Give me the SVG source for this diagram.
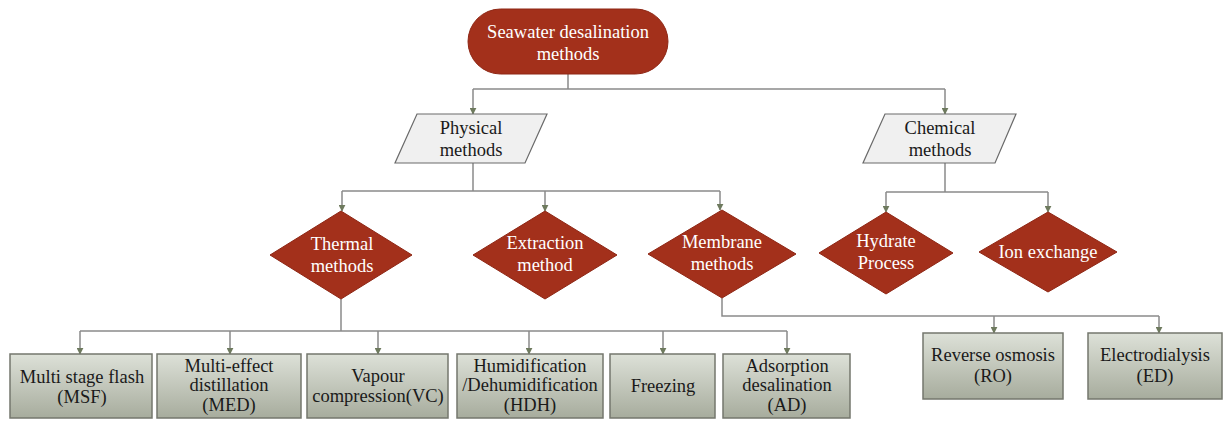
<svg xmlns="http://www.w3.org/2000/svg" width="1223" height="422" viewBox="0 0 1223 422" font-family="'Liberation Serif', 'DejaVu Serif', 'Times New Roman', Times, serif">
  <defs>
    <linearGradient id="boxFill" x1="0" y1="0" x2="0" y2="1">
      <stop offset="0" stop-color="#DDE1D8"/>
      <stop offset="1" stop-color="#A7AC9D"/>
    </linearGradient>
    <marker id="arrow" viewBox="0 0 10 10" refX="9" refY="5" markerWidth="7" markerHeight="7" markerUnits="userSpaceOnUse" orient="auto">
      <path d="M0,0 L10,5 L0,10 Z" fill="#6E7A5E"/>
    </marker>
    <style>
      text { font-family: "Liberation Serif", "DejaVu Serif", "Times New Roman", Times, serif; font-size: 18.5px; text-anchor: middle; }
      .dark { fill: #A3301B; stroke: #8E2614; stroke-width: 1; }
      .dark-text { fill: #FFFFFF; }
      .para { fill: #F0F0F0; stroke: #6A6A6A; stroke-width: 1.2; }
      .box { fill: url(#boxFill); stroke: #74776D; stroke-width: 1.5; }
      .ink { fill: #1A1A1A; }
      .conn { fill: none; stroke: #8A8A8A; stroke-width: 1.5; }
      .arr { fill: none; stroke: #8A8A8A; stroke-width: 1.5; marker-end: url(#arrow); }
    </style>
  </defs>

  <rect width="1223" height="422" fill="#FFFFFF"/>

  <!-- connectors -->
  <g id="connectors">
    <path class="conn" d="M568,74 V89 M473,89 H945"/>
    <path class="arr" d="M473,89 V114"/>
    <path class="arr" d="M945,89 V114"/>

    <path class="conn" d="M473,163 V191 M342,191 H720"/>
    <path class="arr" d="M342,191 V211"/>
    <path class="arr" d="M545,191 V211"/>
    <path class="arr" d="M720,191 V210"/>

    <path class="conn" d="M945,163 V192 M886,192 H1048"/>
    <path class="arr" d="M886,192 V212"/>
    <path class="arr" d="M1048,192 V212"/>

    <path class="conn" d="M341,299 V331 M80,331 H787"/>
    <path class="arr" d="M80,331 V354"/>
    <path class="arr" d="M230,331 V354"/>
    <path class="arr" d="M378,331 V354"/>
    <path class="arr" d="M529,331 V354"/>
    <path class="arr" d="M663,331 V354"/>
    <path class="arr" d="M787,331 V354"/>

    <path class="conn" d="M722,298 V316 H1159"/>
    <path class="arr" d="M994,316 V333"/>
    <path class="arr" d="M1159,316 V333"/>
  </g>

  <!-- root -->
  <g id="node-root">
    <rect class="dark" x="468" y="9" width="200" height="65" rx="32.5"/>
    <text class="dark-text" x="568" y="38">Seawater desalination</text>
    <text class="dark-text" x="568" y="60">methods</text>
  </g>

  <!-- second level -->
  <g id="node-physical">
    <polygon class="para" points="417,114 547,114 525,163 395,163"/>
    <text class="ink" x="471" y="134">Physical</text>
    <text class="ink" x="471" y="156">methods</text>
  </g>
  <g id="node-chemical">
    <polygon class="para" points="885,114 1016,114 995,163 863,163"/>
    <text class="ink" x="940" y="134">Chemical</text>
    <text class="ink" x="940" y="156">methods</text>
  </g>

  <!-- third level -->
  <g id="node-thermal">
    <polygon class="dark" points="341,211 412,255 341,299 270,255"/>
    <text class="dark-text" x="342" y="250">Thermal</text>
    <text class="dark-text" x="342" y="272">methods</text>
  </g>
  <g id="node-extraction">
    <polygon class="dark" points="545,211 617,255 545,299 473,255"/>
    <text class="dark-text" x="545" y="249">Extraction</text>
    <text class="dark-text" x="545" y="271">method</text>
  </g>
  <g id="node-membrane">
    <polygon class="dark" points="722,210 796,254 722,298 648,254"/>
    <text class="dark-text" x="722" y="248">Membrane</text>
    <text class="dark-text" x="722" y="270">methods</text>
  </g>
  <g id="node-hydrate">
    <polygon class="dark" points="886,212 953,253 886,294 819,253"/>
    <text class="dark-text" x="886" y="247">Hydrate</text>
    <text class="dark-text" x="886" y="269">Process</text>
  </g>
  <g id="node-ion-exchange">
    <polygon class="dark" points="1048,212 1117,252 1048,292 979,252"/>
    <text class="dark-text" x="1048" y="258">Ion exchange</text>
  </g>

  <!-- thermal processes -->
  <g id="node-msf">
    <rect class="box" x="10" y="354" width="142" height="64"/>
    <text class="ink" x="82" y="383">Multi stage flash</text>
    <text class="ink" x="82" y="403">(MSF)</text>
  </g>
  <g id="node-med">
    <rect class="box" x="157" y="354" width="144" height="64"/>
    <text class="ink" x="229" y="372">Multi-effect</text>
    <text class="ink" x="229" y="391">distillation</text>
    <text class="ink" x="229" y="411">(MED)</text>
  </g>
  <g id="node-vc">
    <rect class="box" x="307" y="354" width="141" height="64"/>
    <text class="ink" x="378" y="382">Vapour</text>
    <text class="ink" x="378" y="402">compression(VC)</text>
  </g>
  <g id="node-hdh">
    <rect class="box" x="457" y="354" width="146" height="64"/>
    <text class="ink" x="530" y="372">Humidification</text>
    <text class="ink" x="530" y="391">/Dehumidification</text>
    <text class="ink" x="530" y="411">(HDH)</text>
  </g>
  <g id="node-freezing">
    <rect class="box" x="610" y="354" width="105" height="64"/>
    <text class="ink" x="663" y="392">Freezing</text>
  </g>
  <g id="node-ad">
    <rect class="box" x="723" y="354" width="127" height="64"/>
    <text class="ink" x="787" y="372">Adsorption</text>
    <text class="ink" x="787" y="391">desalination</text>
    <text class="ink" x="787" y="411">(AD)</text>
  </g>

  <!-- membrane processes -->
  <g id="node-ro">
    <rect class="box" x="923" y="333" width="140" height="66"/>
    <text class="ink" x="993" y="361">Reverse osmosis</text>
    <text class="ink" x="993" y="382">(RO)</text>
  </g>
  <g id="node-ed">
    <rect class="box" x="1088" y="333" width="134" height="66"/>
    <text class="ink" x="1155" y="361">Electrodialysis</text>
    <text class="ink" x="1155" y="382">(ED)</text>
  </g>
</svg>
